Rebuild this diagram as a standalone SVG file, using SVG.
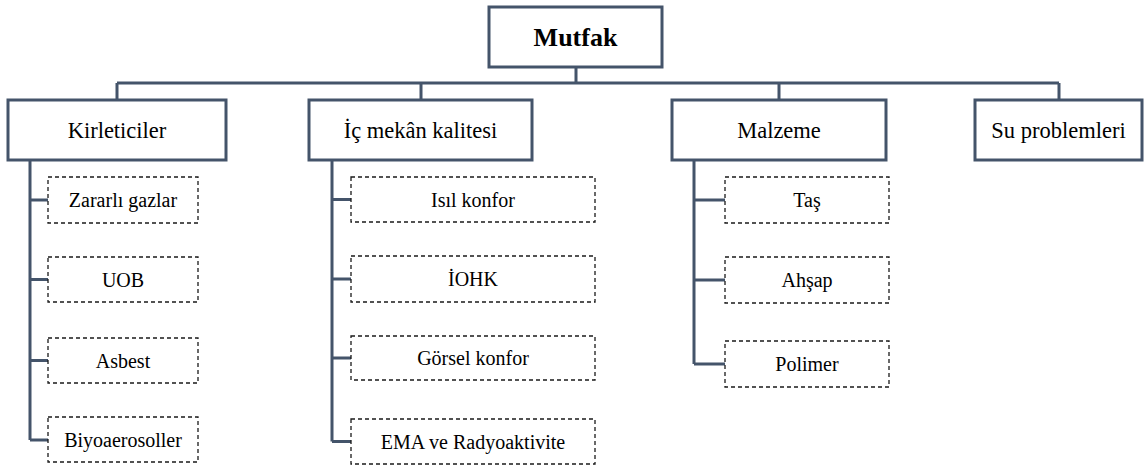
<svg xmlns="http://www.w3.org/2000/svg" width="1144" height="468" viewBox="0 0 1144 468" font-family="'Liberation Serif', 'DejaVu Serif', serif">
  <style>
    .main { fill: #ffffff; stroke: #44546A; stroke-width: 3; }
    .sub { fill: #ffffff; stroke: #1a1a1a; stroke-width: 1.3; stroke-dasharray: 4 3; }
    .conn { fill: none; stroke: #44546A; stroke-width: 3; }
    .lbl { font-family: 'Liberation Serif', 'DejaVu Serif', serif; fill: #000000; text-anchor: middle; }
    .t-root { font-size: 26px; font-weight: bold; }
    .t-main { font-size: 22.5px; }
    .t-sub { font-size: 20px; }
  </style>
  <rect width="1144" height="468" fill="#ffffff"/>

  <!-- connectors -->
  <g id="connectors">
    <path class="conn" d="M576 67 V83 M117 83 H1059 M117 83 V100 M421 83 V100 M779 83 V100 M1059 83 V100"/>
    <path class="conn" d="M30 160 V440 M30 200 H48 M30 279.5 H48 M30 360.5 H48 M30 440 H48"/>
    <path class="conn" d="M332 160 V441.5 M332 199.5 H351 M332 279 H351 M332 358 H351 M332 441.5 H351"/>
    <path class="conn" d="M694 160 V364 M694 200 H725 M694 280 H725 M694 364 H725"/>
  </g>

  <!-- root -->
  <g id="mutfak">
    <rect class="main" x="489" y="7" width="173" height="60"/>
    <text class="lbl t-root" x="575.5" y="46">Mutfak</text>
  </g>

  <!-- first level -->
  <g id="kirleticiler">
    <rect class="main" x="8" y="100" width="218" height="60"/>
    <text class="lbl t-main" x="117" y="138">Kirleticiler</text>
  </g>
  <g id="ic-mekan-kalitesi">
    <rect class="main" x="309" y="100" width="223" height="60"/>
    <text class="lbl t-main" x="420.5" y="138">İç mekân kalitesi</text>
  </g>
  <g id="malzeme">
    <rect class="main" x="672" y="100" width="214" height="60"/>
    <text class="lbl t-main" x="779" y="138">Malzeme</text>
  </g>
  <g id="su-problemleri">
    <rect class="main" x="975" y="100" width="167" height="60"/>
    <text class="lbl t-main" x="1058.5" y="138">Su problemleri</text>
  </g>

  <!-- Kirleticiler children -->
  <g id="zararli-gazlar">
    <rect class="sub" x="48" y="177" width="150" height="46"/>
    <text class="lbl t-sub" x="123" y="207">Zararlı gazlar</text>
  </g>
  <g id="uob">
    <rect class="sub" x="48" y="257" width="150" height="45"/>
    <text class="lbl t-sub" x="123" y="286.5">UOB</text>
  </g>
  <g id="asbest">
    <rect class="sub" x="48" y="338" width="150" height="45"/>
    <text class="lbl t-sub" x="123" y="367.5">Asbest</text>
  </g>
  <g id="biyoaerosoller">
    <rect class="sub" x="48" y="417" width="150" height="45"/>
    <text class="lbl t-sub" x="123" y="446.5">Biyoaerosoller</text>
  </g>

  <!-- İç mekân kalitesi children -->
  <g id="isil-konfor">
    <rect class="sub" x="351" y="177" width="244" height="45"/>
    <text class="lbl t-sub" x="473" y="206.5">Isıl konfor</text>
  </g>
  <g id="iohk">
    <rect class="sub" x="351" y="256" width="244" height="46"/>
    <text class="lbl t-sub" x="473" y="286">İOHK</text>
  </g>
  <g id="gorsel-konfor">
    <rect class="sub" x="351" y="336" width="244" height="44"/>
    <text class="lbl t-sub" x="473" y="365">Görsel konfor</text>
  </g>
  <g id="ema-radyoaktivite">
    <rect class="sub" x="351" y="419" width="244" height="45"/>
    <text class="lbl t-sub" x="473" y="448.5">EMA ve Radyoaktivite</text>
  </g>

  <!-- Malzeme children -->
  <g id="tas">
    <rect class="sub" x="725" y="177" width="164" height="46"/>
    <text class="lbl t-sub" x="807" y="207">Taş</text>
  </g>
  <g id="ahsap">
    <rect class="sub" x="725" y="257" width="164" height="46"/>
    <text class="lbl t-sub" x="807" y="287">Ahşap</text>
  </g>
  <g id="polimer">
    <rect class="sub" x="725" y="341" width="164" height="46"/>
    <text class="lbl t-sub" x="807" y="371">Polimer</text>
  </g>
</svg>
